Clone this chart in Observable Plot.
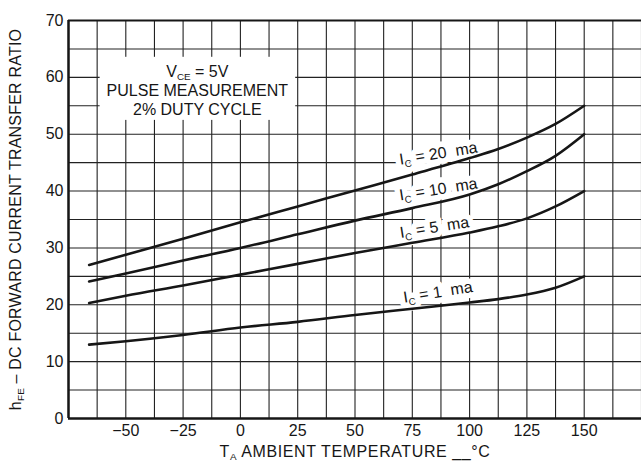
<!DOCTYPE html>
<html>
<head>
<meta charset="utf-8">
<script src="https://cdn.jsdelivr.net/npm/d3@7"></script>
<script src="https://cdn.jsdelivr.net/npm/@observablehq/plot@0.6"></script>
<style>
  html, body { margin: 0; padding: 0; background: #fff; }
  svg { display: block; }
</style>
</head>
<body>
<div id="chart"></div>
<script>
// ---- data ----
const temps = [-66, -50, -25, 0, 25, 50, 75, 100, 112.5, 125, 137.5, 150];
const seriesNames = ["20 ma", "10 ma", "5 ma", "1 ma"];
const hfe20 = [27.0, 28.8, 31.6, 34.5, 37.3, 40.1, 42.9, 45.8, 47.4, 49.4, 51.8, 55.0];
const hfe10 = [24.1, 25.5, 27.8, 30.0, 32.4, 34.8, 37.0, 39.4, 41.2, 43.5, 46.2, 50.0];
const hfe5  = [20.3, 21.6, 23.4, 25.3, 27.2, 29.1, 30.9, 32.7, 33.8, 35.2, 37.3, 40.0];
const hfe1  = [13.0, 13.6, 14.7, 16.0, 17.0, 18.2, 19.3, 20.4, 21.0, 21.8, 23.0, 25.0];

const curveLabels = ["I_{C} = 20  ma", "I_{C} = 10  ma", "I_{C} = 5  ma", "I_{C} = 1  ma"];
const labelTemps = [86.4, 86.4, 84.7, 86.2];
const labelHfe = [46.6, 40.3, 33.6, 22.2];

const annotLines = ["V_{CE} = 5V", "PULSE MEASUREMENT", "2% DUTY CYCLE"];
const annotTemp = -18.8;
const annotHfe = [61.0, 57.7, 54.3];

const xTicks = [-50, -25, 0, 25, 50, 75, 100, 125, 150];
const yTicks = [0, 10, 20, 30, 40, 50, 60, 70];
const xGrid = [-75, -62.5, -50, -37.5, -25, -12.5, 0, 12.5, 25, 37.5, 50, 62.5, 75, 87.5, 100, 112.5, 125, 137.5, 150, 162.5, 175];
const yGrid = [0, 5, 10, 15, 20, 25, 30, 35, 40, 45, 50, 55, 60, 65, 70];

const xLabel = "T_{A} AMBIENT TEMPERATURE __°C";
const yLabel = "h_{FE} – DC FORWARD CURRENT TRANSFER RATIO";

// ---- build tidy table ----
const seriesValues = [hfe20, hfe10, hfe5, hfe1];
const rows = seriesNames.flatMap((s, i) => temps.map((t, j) => ({ic: s, temp: t, hfe: seriesValues[i][j]})));

const ink = "#161616";
const labelOpts = {
  x: (d, i) => labelTemps[i], y: (d, i) => labelHfe[i], text: d => d,
  rotate: -9, fontSize: 16
};
const plot = Plot.plot({
  width: 641,
  height: 468,
  marginLeft: 68,
  marginRight: 0,
  marginTop: 20,
  marginBottom: 50,
  style: {fontFamily: "'Liberation Sans', Arial, sans-serif", fontSize: "16px", color: ink, background: "white"},
  x: {domain: [-75, 175]},
  y: {domain: [0, 70]},
  marks: [
    Plot.gridX(xGrid, {stroke: "#222", strokeOpacity: 1, strokeWidth: 1.1}),
    Plot.gridY(yGrid, {stroke: "#222", strokeOpacity: 1, strokeWidth: 1.1}),
    // white backing behind the curve labels
    Plot.text(curveLabels, {...labelOpts, fill: "white", stroke: "white", strokeWidth: 11, strokeLinejoin: "round"}),
    Plot.text(curveLabels, {...labelOpts, fill: ink}),
    Plot.line(rows, {x: "temp", y: "hfe", z: "ic", curve: "monotone-x", stroke: ink, strokeWidth: 2.6}),
    Plot.text(annotLines, {
      x: () => annotTemp, y: (d, i) => annotHfe[i], text: d => d,
      fontSize: 16, fill: ink
    }),
    Plot.ruleY([0], {stroke: ink, strokeWidth: 2.5}),
    Plot.ruleY([70], {stroke: ink, strokeWidth: 2}),
    Plot.ruleX([-75], {stroke: ink, strokeWidth: 2.5}),
    Plot.axisX(xTicks, {tickSize: 0, tickPadding: 6, label: null, fontSize: 16}),
    Plot.axisY(yTicks, {tickSize: 0, tickPadding: 5, label: null, fontSize: 16}),
    Plot.text([xLabel], {frameAnchor: "bottom", textAnchor: "middle", dy: 38, text: d => d, fontSize: 16, fill: ink}),
    Plot.text([yLabel], {frameAnchor: "left", textAnchor: "middle", dx: -53, rotate: -90, text: d => d, fontSize: 16, fill: ink})
  ]
});

document.getElementById("chart").append(plot);

// ---- subscripts, letter spacing and annotation box ----
const NS = "http://www.w3.org/2000/svg";
const annotEls = [];
plot.querySelectorAll("text").forEach(t => {
  const s = t.textContent;
  if (annotLines.includes(s)) annotEls.push(t);
  if (s === xLabel) t.setAttribute("letter-spacing", "0.6");
  if (s === yLabel) t.setAttribute("letter-spacing", "0.2");
  if (!/_\{/.test(s)) return;
  const fs = parseFloat(getComputedStyle(t).fontSize) || 16;
  const parts = s.split(/_\{([^}]*)\}/);
  t.textContent = "";
  let shifted = false;
  parts.forEach((p, i) => {
    if (!p) return;
    const ts = document.createElementNS(NS, "tspan");
    ts.textContent = p;
    if (i % 2 === 1) {
      ts.setAttribute("font-size", (fs * 0.62).toFixed(1));
      ts.setAttribute("dy", (fs * 0.22).toFixed(1));
      shifted = true;
    } else if (shifted) {
      ts.setAttribute("dy", (-fs * 0.22).toFixed(1));
      shifted = false;
    }
    t.appendChild(ts);
  });
  t.style.whiteSpace = "pre";
});

if (annotEls.length) {
  const svgBox = plot.getBoundingClientRect();
  let x0 = Infinity, y0 = Infinity, x1 = -Infinity, y1 = -Infinity;
  annotEls.forEach(el => {
    const b = el.getBoundingClientRect();
    x0 = Math.min(x0, b.left); y0 = Math.min(y0, b.top);
    x1 = Math.max(x1, b.right); y1 = Math.max(y1, b.bottom);
  });
  const rect = document.createElementNS(NS, "rect");
  rect.setAttribute("x", x0 - svgBox.left - 7);
  rect.setAttribute("y", y0 - svgBox.top - 6);
  rect.setAttribute("width", x1 - x0 + 14);
  rect.setAttribute("height", y1 - y0 + 8);
  rect.setAttribute("fill", "white");
  const g = annotEls[0].parentNode;
  g.parentNode.insertBefore(rect, g);
}
</script>
</body>
</html>
